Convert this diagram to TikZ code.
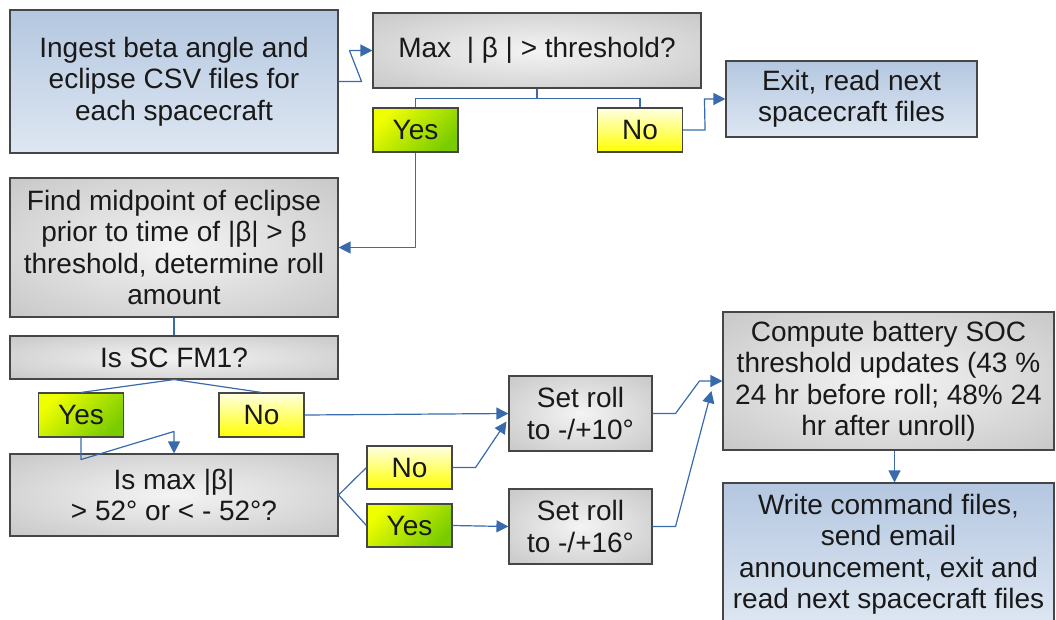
\documentclass[tikz,border=0pt]{standalone}
\usepackage{fontspec}
\setmainfont{Liberation Sans}
\usetikzlibrary{arrows.meta,calc}

% palette
\definecolor{linkblue}{RGB}{56,106,172}
\definecolor{framegray}{RGB}{70,70,70}
\definecolor{greylight}{RGB}{244,244,244}
\definecolor{greydark}{RGB}{172,172,172}
\definecolor{bluetop}{RGB}{180,199,224}
\definecolor{bluebottom}{RGB}{222,231,242}
\definecolor{yesyellow}{RGB}{240,255,0}
\definecolor{yesgreen}{RGB}{122,204,0}
\definecolor{nopale}{RGB}{255,255,226}
\definecolor{noyellow}{RGB}{255,255,0}

% soft radial grey fill for process boxes
\pgfdeclareradialshading{greyglow}{\pgfpointorigin}{%
  color(0bp)=(greylight); color(58bp)=(greydark); color(72bp)=(greydark)}

\tikzset{
  x=1pt, y=-1pt,
  box/.style={draw=framegray, line width=1.1pt, inner sep=0pt, align=center,
    font=\fontsize{28}{31.5}\selectfont, text=black!90},
  greybox/.style={box, shading=greyglow},
  bluebox/.style={box, top color=bluetop, bottom color=bluebottom},
  yesbox/.style={box, top color=yesyellow, bottom color=yesgreen, shading angle=45,
    minimum width=85pt, minimum height=44pt},
  nobox/.style={box, top color=nopale, bottom color=noyellow,
    minimum width=85pt, minimum height=44pt},
  link/.style={draw=linkblue, line width=1.2pt, line join=round},
  arrowlink/.style={link, -{Triangle[length=12pt,width=12pt]}},
}

\begin{document}
\begin{tikzpicture}
\clip (0,0) rectangle (1056,619);

% process and decision boxes
\node[bluebox, minimum width=328pt, minimum height=143pt] (ingest) at (174,81.5)
  {Ingest beta angle and\\eclipse CSV files for\\each spacecraft};
\node[greybox, minimum width=328pt, minimum height=75pt] (maxb) at (537,50.5)
  {Max\ \ | β | > threshold?};
\node[yesbox] (yesA) at (415.5,130) {Yes};
\node[nobox] (noA) at (640,130) {No};
\node[bluebox, minimum width=251pt, minimum height=76pt] (exitb) at (851.5,99)
  {Exit, read next\\spacecraft files};
\node[greybox, minimum width=328pt, minimum height=139pt] (find) at (174,247.5)
  {Find midpoint of eclipse\\prior to time of |β| > β\\threshold, determine roll\\amount};
\node[greybox, minimum width=328pt, minimum height=43pt] (issc) at (174,357.5)
  {Is SC FM1?};
\node[yesbox] (yesB) at (81,415) {Yes};
\node[nobox] (noB) at (261.5,415) {No};
\node[greybox, minimum width=328pt, minimum height=82pt] (ismax) at (174,495)
  {Is max |β|\\> 52° or < - 52°?};
\node[nobox, minimum height=43pt] (noC) at (409.5,467.5) {No};
\node[yesbox, minimum height=43pt] (yesC) at (409.5,525.5) {Yes};
\node[greybox, minimum width=143pt, minimum height=75pt] (setten) at (580.5,413.5)
  {Set roll\\to -/+10°};
\node[greybox, minimum width=143pt, minimum height=75pt] (setsixteen) at (580.5,526.5)
  {Set roll\\to -/+16°};
\node[greybox, minimum width=331pt, minimum height=138pt] (compute) at (888.5,381)
  {Compute battery SOC\\threshold updates (43 \%\\24 hr before roll; 48\% 24\\hr after unroll)};
\node[bluebox, minimum width=331pt, minimum height=142pt] (writeb) at (888.5,554)
  {Write command files,\\send email\\announcement, exit and\\read next spacecraft files};

% connectors
\draw[arrowlink] (ingest.east) -- ++(23,0) -- ($(maxb.west)+(-23,0)$) -- (maxb.west);
\draw[link] (maxb.south) -- ++(0,10) coordinate (split) -| (yesA.north);
\draw[link] (split) -| (noA.north);
\draw[arrowlink] (noA.east) -- ++(22,0) -- ($(exitb.west)+(-21,0)$) -- (exitb.west);
\draw[arrowlink] (yesA.south) |- (find.east);
\draw[link] (find.south) -- (issc.north);
\draw[link] (issc.south) -- (yesB.north);
\draw[link] (issc.south) -- (noB.north);
\draw[arrowlink] (yesB.south) -- ++(0,22) -- ($(ismax.north)+(0,-22)$) -- (ismax.north);
\draw[arrowlink] (noB.east) -- (setten.west);
\draw[link] (ismax.east) -- (noC.west);
\draw[link] (ismax.east) -- (yesC.west);
\draw[arrowlink] (noC.east) -- ++(23,0) -- ($(setten.west)+(-2,8)$);
\draw[arrowlink] (yesC.east) -- (setsixteen.west);
\draw[arrowlink] (setten.east) -- ++(23,0) -- ($(compute.west)+(-23,0)$) -- (compute.west);
\draw[arrowlink] (setsixteen.east) -- ++(23,0) -- ($(compute.west)+(-11,10)$);
\draw[arrowlink] ($(compute.south)+(6,0)$) -- ($(writeb.north)+(6,0)$);
\end{tikzpicture}
\end{document}
